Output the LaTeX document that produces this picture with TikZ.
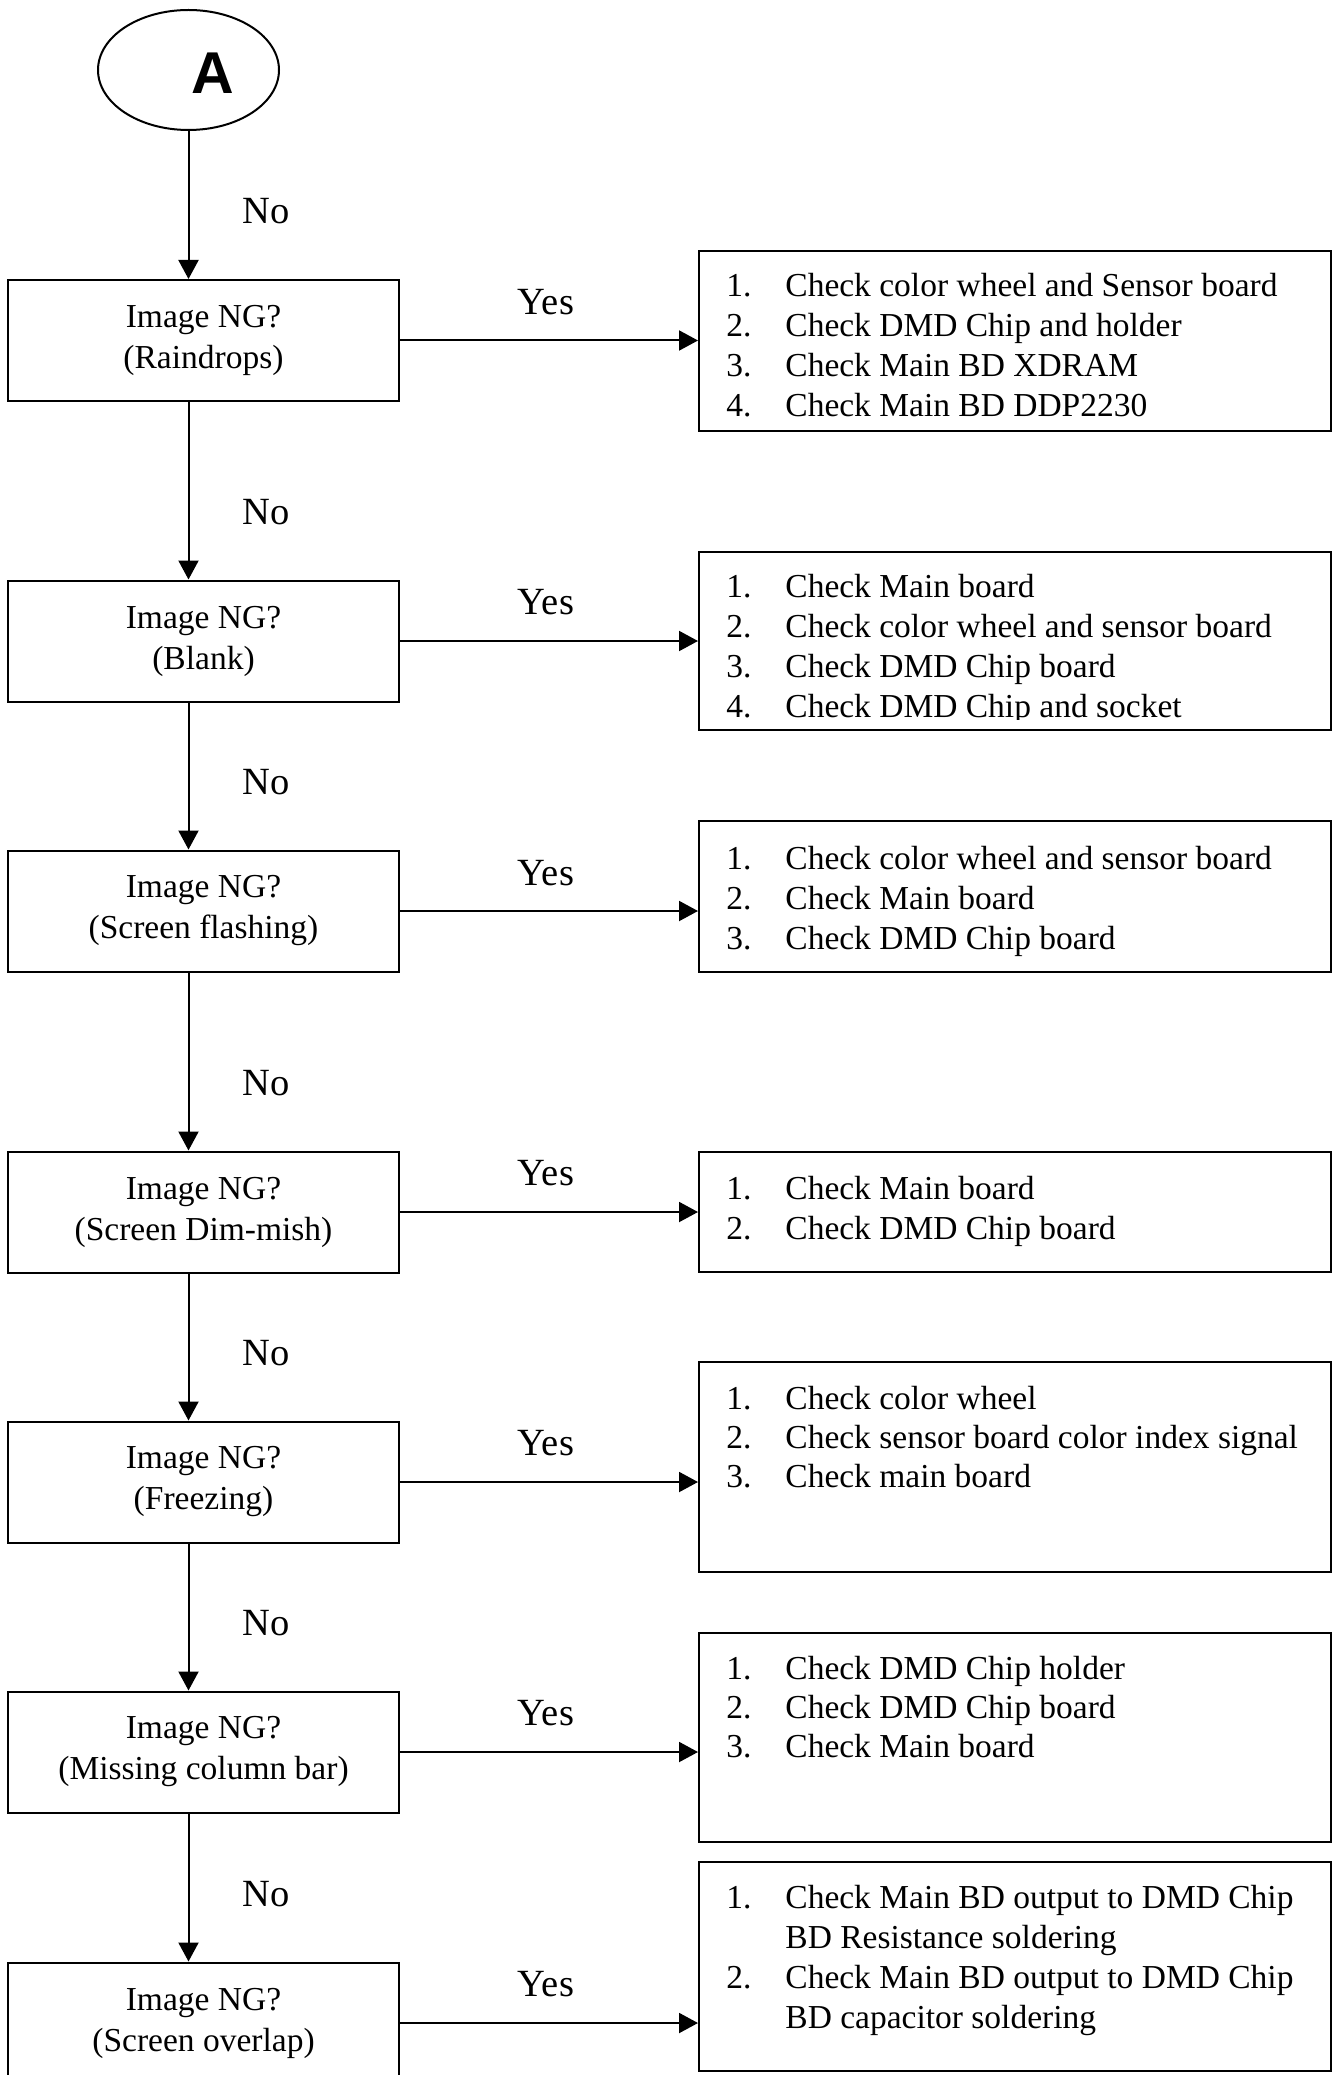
\documentclass[tikz,border=0pt]{standalone}
\usepackage{fontspec}
\setmainfont{Liberation Serif}
\newfontfamily\arialfont{Liberation Sans}
\usetikzlibrary{arrows.meta,shapes.geometric}
\newcommand\chkitem[2]{\makebox[29.5pt][l]{#1}#2}
\tikzset{
  qbox/.style={draw, line width=1pt, minimum width=195.5pt, minimum height=60.5pt, inner sep=0pt, align=center, font=\fontsize{16.75pt}{20.5pt}\selectfont},
  rbox/.style={draw, line width=1pt, inner sep=0pt, minimum width=316pt},
  itemtext/.style={anchor=base west, inner sep=0pt, font=\fontsize{16.75pt}{20pt}\selectfont},
  lbl/.style={inner sep=0pt, font=\fontsize{19.25pt}{23pt}\selectfont},
  arr/.style={line width=1pt, -{Triangle[length=9.5pt,width=10pt]}},
}
\begin{document}
\begin{tikzpicture}[x=0.5pt, y=-0.5pt]
\clip (0,0) rectangle (1336,2075);
\fill[white] (0,0) rectangle (1336,2075);

% start connector
\node[draw, ellipse, line width=1pt, minimum width=90.5pt, minimum height=60pt, inner sep=0pt] (A) at (188.5,70) {};
\node[inner sep=0pt, font=\arialfont\bfseries\fontsize{29.5pt}{30pt}\selectfont] (Atext) at (213,73.5) {A};

% question boxes
\node[qbox] (q1) at (203.5,340.5) {Image NG?\\(Raindrops)};
\node[qbox] (q2) at (203.5,641) {Image NG?\\(Blank)};
\node[qbox] (q3) at (203.5,911) {Image NG?\\(Screen flashing)};
\node[qbox] (q4) at (203.5,1212) {Image NG?\\(Screen Dim-mish)};
\node[qbox] (q5) at (203.5,1482) {Image NG?\\(Freezing)};
\node[qbox] (q6) at (203.5,1752) {Image NG?\\(Missing column bar)};
\node[qbox] (q7) at (203.5,2023) {Image NG?\\(Screen overlap)};

% answer boxes
\node[rbox, minimum height=90pt] (r1) at (1015,341) {};
\node[rbox, minimum height=89pt] (r2) at (1015,641) {};
\node[rbox, minimum height=75.5pt] (r3) at (1015,896.5) {};
\node[rbox, minimum height=60pt] (r4) at (1015,1212) {};
\node[rbox, minimum height=105pt] (r5) at (1015,1467) {};
\node[rbox, minimum height=104.5pt] (r6) at (1015,1737.5) {};
\node[rbox, minimum height=104.5pt] (r7) at (1015,1966.5) {};

% vertical No connectors
\draw[arr] (A.south) -- (A.south |- q1.north);
\draw[arr] (q1.south -| A.south) -- (q2.north -| A.south);
\draw[arr] (q2.south -| A.south) -- (q3.north -| A.south);
\draw[arr] (q3.south -| A.south) -- (q4.north -| A.south);
\draw[arr] (q4.south -| A.south) -- (q5.north -| A.south);
\draw[arr] (q5.south -| A.south) -- (q6.north -| A.south);
\draw[arr] (q6.south -| A.south) -- (q7.north -| A.south);

% horizontal Yes connectors
\draw[arr] (q1.east) -- (q1.east -| r1.west);
\draw[arr] (q2.east) -- (q2.east -| r2.west);
\draw[arr] (q3.east) -- (q3.east -| r3.west);
\draw[arr] (q4.east) -- (q4.east -| r4.west);
\draw[arr] (q5.east) -- (q5.east -| r5.west);
\draw[arr] (q6.east) -- (q6.east -| r6.west);
\draw[arr] (q7.east) -- (q7.east -| r7.west);

% No labels
\node[lbl] (n1) at (266.5,211) {No};
\node[lbl] (n2) at (266.5,512) {No};
\node[lbl] (n3) at (266.5,782) {No};
\node[lbl] (n4) at (266.5,1083) {No};
\node[lbl] (n5) at (266.5,1353) {No};
\node[lbl] (n6) at (266.5,1623) {No};
\node[lbl] (n7) at (266.5,1894) {No};

% Yes labels
\node[lbl] (y1) at (546,302) {Yes};
\node[lbl] (y2) at (546,602) {Yes};
\node[lbl] (y3) at (546,873) {Yes};
\node[lbl] (y4) at (546,1173) {Yes};
\node[lbl] (y5) at (546,1443) {Yes};
\node[lbl] (y6) at (546,1713) {Yes};
\node[lbl] (y7) at (546,1984) {Yes};

% box 1
\node[itemtext] (r1a) at (726,297) {\chkitem{1.}{Check color wheel and Sensor board}};
\node[itemtext] (r1b) at (726,337) {\chkitem{2.}{Check DMD Chip and holder}};
\node[itemtext] (r1c) at (726,377) {\chkitem{3.}{Check Main BD XDRAM}};
\node[itemtext] (r1d) at (726,417) {\chkitem{4.}{Check Main BD DDP2230}};

% box 2
\node[itemtext] (r2a) at (726,597) {\chkitem{1.}{Check Main board}};
\node[itemtext] (r2b) at (726,637) {\chkitem{2.}{Check color wheel and sensor board}};
\node[itemtext] (r2c) at (726,677) {\chkitem{3.}{Check DMD Chip board}};
\begin{scope}
\clip (700,560) rectangle (1330,719);
\node[itemtext] (r2d) at (726,717) {\chkitem{4.}{Check DMD Chip and socket}};
\end{scope}

% box 3
\node[itemtext] (r3a) at (726,869) {\chkitem{1.}{Check color wheel and sensor board}};
\node[itemtext] (r3b) at (726,909) {\chkitem{2.}{Check Main board}};
\node[itemtext] (r3c) at (726,949) {\chkitem{3.}{Check DMD Chip board}};

% box 4
\node[itemtext] (r4a) at (726,1199) {\chkitem{1.}{Check Main board}};
\node[itemtext] (r4b) at (726,1239) {\chkitem{2.}{Check DMD Chip board}};

% box 5
\node[itemtext] (r5a) at (726,1409) {\chkitem{1.}{Check color wheel}};
\node[itemtext] (r5b) at (726,1448) {\chkitem{2.}{Check sensor board color index signal}};
\node[itemtext] (r5c) at (726,1487) {\chkitem{3.}{Check main board}};

% box 6
\node[itemtext] (r6a) at (726,1679) {\chkitem{1.}{Check DMD Chip holder}};
\node[itemtext] (r6b) at (726,1718) {\chkitem{2.}{Check DMD Chip board}};
\node[itemtext] (r6c) at (726,1757) {\chkitem{3.}{Check Main board}};

% box 7
\node[itemtext] (r7a) at (726,1908) {\chkitem{1.}{Check Main BD output to DMD Chip}};
\node[itemtext] (r7b) at (726,1948) {\chkitem{}{BD Resistance soldering}};
\node[itemtext] (r7c) at (726,1988) {\chkitem{2.}{Check Main BD output to DMD Chip}};
\node[itemtext] (r7d) at (726,2028) {\chkitem{}{BD capacitor soldering}};
\end{tikzpicture}
\end{document}
